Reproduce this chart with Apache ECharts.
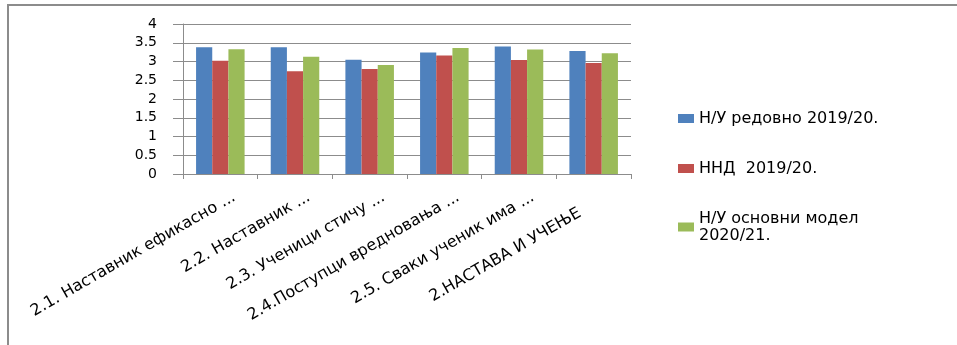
<!DOCTYPE html>
<html>
<head>
<meta charset="utf-8">
<script src="https://cdn.jsdelivr.net/npm/echarts@6/dist/echarts.min.js"></script>
<style>
  html, body { margin: 0; padding: 0; background: #fff; }
  #frame { position: absolute; left: 7px; top: 4px; width: 950px; height: 341px;
           border-top: 2px solid #8c8c8c; border-left: 2px solid #8c8c8c; box-sizing: border-box; }
  #chart { position: absolute; left: 0; top: 0; width: 957px; height: 345px; }
</style>
</head>
<body>
<div id="frame"></div>
<div id="chart"></div>
<script>
const categories = [
  '2.1. Наставник ефикасно ...',
  '2.2. Наставник ...',
  '2.3. Ученици стичу ...',
  '2.4.Поступци вредновања ...',
  '2.5. Сваки ученик има ...',
  '2.НАСТАВА И УЧЕЊЕ'
];
const seriesNames = ['Н/У редовно 2019/20.', 'ННД  2019/20.', 'Н/У основни модел 2020/21.'];
const regular2019 = [3.38, 3.38, 3.05, 3.24, 3.40, 3.28];
const nnd2019 = [3.02, 2.74, 2.80, 3.16, 3.04, 2.96];
const basic2020 = [3.33, 3.13, 2.91, 3.36, 3.32, 3.22];
const yTicks = { min: 0, max: 4, interval: 0.5 };
const colors = ['#4F81BD', '#C0504D', '#9BBB59'];

const font = 'DejaVu Sans';
const labelFont = { fontFamily: font, fontSize: 16, color: '#000' };
const chart = echarts.init(document.getElementById('chart'), null, { renderer: 'canvas' });
chart.setOption({
  animation: false,
  backgroundColor: 'transparent',
  color: colors,
  grid: { left: 183, right: 326, top: 24, bottom: 171, containLabel: false, outerBoundsMode: 'none' },
  legend: {
    orient: 'vertical',
    left: 673,
    top: 105,
    itemWidth: 16,
    itemHeight: 9,
    itemGap: 33,
    icon: 'rect',
    textStyle: { fontFamily: font, fontSize: 16, lineHeight: 17, color: '#000' },
    formatter: function (name) { return name.replace('модел ', 'модел\n'); },
    data: seriesNames
  },
  xAxis: {
    type: 'category',
    data: categories,
    boundaryGap: true,
    axisLine: { lineStyle: { color: '#8c8c8c', width: 1 } },
    axisTick: { show: true, length: 5, inside: false, lineStyle: { color: '#8c8c8c' } },
    axisLabel: Object.assign({
      interval: 0,
      rotate: 30,
      margin: 30,
      padding: [0, -16, 0, 0],
      formatter: function (v, i) {
        return i === categories.length - 1 ? '{last|' + v + '}' : '{n|' + v + '}';
      },
      rich: {
        n: Object.assign({}, labelFont),
        last: Object.assign({ padding: [0, 32, 0, 0] }, labelFont)
      }
    }, labelFont),
    splitLine: { show: false }
  },
  yAxis: {
    type: 'value',
    min: yTicks.min,
    max: yTicks.max,
    interval: yTicks.interval,
    axisLine: { show: true, lineStyle: { color: '#8c8c8c', width: 1 } },
    axisTick: { show: true, length: 10, inside: false, lineStyle: { color: '#8c8c8c' } },
    axisLabel: { margin: 26, fontFamily: font, fontSize: 14, color: '#000' },
    splitLine: { show: true, lineStyle: { color: '#8c8c8c', width: 1 } }
  },
  series: [
    { name: seriesNames[0], type: 'bar', data: regular2019, barGap: '0%', barCategoryGap: '35%' },
    { name: seriesNames[1], type: 'bar', data: nnd2019, barGap: '0%', barCategoryGap: '35%' },
    { name: seriesNames[2], type: 'bar', data: basic2020, barGap: '0%', barCategoryGap: '35%' }
  ]
});
</script>
</body>
</html>
